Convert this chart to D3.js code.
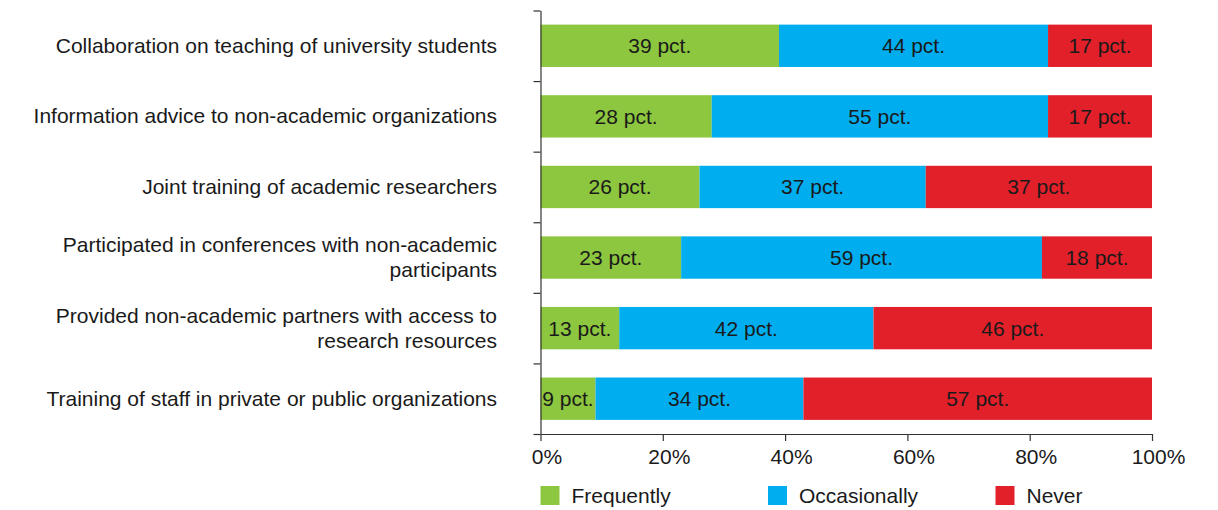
<!DOCTYPE html>
<html>
<head>
<meta charset="utf-8">
<script src="https://cdn.jsdelivr.net/npm/d3@7"></script>
<style>
  html, body { margin: 0; padding: 0; background: #fff; }
  svg text { font-family: "Liberation Sans", Arial, Helvetica, sans-serif; fill: #1a1a1a; }
</style>
</head>
<body>
<svg id="chart" width="1218" height="510"></svg>
<script>
// Activity categories (each label split into display lines)
const categories = [
  ["Collaboration on teaching of university students"],
  ["Information advice to non-academic organizations"],
  ["Joint training of academic researchers"],
  ["Participated in conferences with non-academic", "participants"],
  ["Provided non-academic partners with access to", "research resources"],
  ["Training of staff in private or public organizations"]
];
const seriesNames = ["Frequently", "Occasionally", "Never"];
const frequently   = [39, 28, 26, 23, 13, 9];
const occasionally = [44, 55, 37, 59, 42, 34];
const never        = [17, 17, 37, 18, 46, 57];
const tickLabels = ["0%", "20%", "40%", "60%", "80%", "100%"];
const colors = ["#8dc63f", "#00adee", "#e2202a"];

const rows = categories.map((c, i) => ({
  key: c.join(" "),
  lines: c,
  Frequently: frequently[i],
  Occasionally: occasionally[i],
  Never: never[i]
}));

const svg = d3.select("#chart");
const plotLeft = 540.5, plotRight = 1152, plotTop = 10.5, plotBottom = 434;

const x = d3.scaleLinear().domain([0, 1]).range([plotLeft, plotRight]);
const y = d3.scaleBand().domain(rows.map(r => r.key)).range([plotTop, plotBottom])
  .paddingInner(0.4).paddingOuter(0.2);

// share of each answer within a row
const stacked = d3.stack().keys(seriesNames).offset(d3.stackOffsetExpand)(rows);

const layers = svg.append("g").selectAll("g").data(stacked).join("g")
  .attr("fill", (d, i) => colors[i]);

layers.selectAll("rect").data(d => d).join("rect")
  .attr("x", d => x(d[0]))
  .attr("width", d => x(d[1]) - x(d[0]))
  .attr("y", d => y(d.data.key))
  .attr("height", y.bandwidth());

const labels = svg.append("g");
stacked.forEach(layer => {
  labels.append("g").selectAll("text").data(layer).join("text")
    .attr("x", d => (x(d[0]) + x(d[1])) / 2)
    .attr("y", d => y(d.data.key) + y.bandwidth() / 2)
    .attr("text-anchor", "middle")
    .attr("dominant-baseline", "central")
    .attr("font-size", 21)
    .text(d => d.data[layer.key] + " pct.");
});

// vertical axis with ticks on row boundaries
const yEdge = d3.scaleLinear().domain([0, rows.length]).range([plotTop, plotBottom]);
const yAxis = svg.append("g").attr("transform", `translate(${plotLeft},0)`)
  .call(d3.axisLeft(yEdge).tickValues(d3.range(rows.length + 1)).tickFormat("").tickSize(7).tickSizeOuter(0));
yAxis.selectAll("line, path").attr("stroke", "#333").attr("stroke-width", 1.2);

// horizontal percentage axis
const xAxis = svg.append("g").attr("transform", `translate(0,${plotBottom})`)
  .call(d3.axisBottom(x).tickValues(d3.range(0, 1.0001, 0.2))
    .tickFormat((d, i) => tickLabels[i]).tickSize(7).tickSizeOuter(0));
xAxis.selectAll("line, path").attr("stroke", "#333").attr("stroke-width", 1.2);
xAxis.selectAll("text")
  .attr("font-size", 21)
  .attr("font-family", "Liberation Sans, Arial, sans-serif")
  .attr("fill", "#1a1a1a")
  .attr("dx", 6)
  .attr("dy", "0.95em");

// row labels
const lineGap = 25;
svg.append("g").selectAll("text").data(rows).join("text")
  .attr("text-anchor", "end")
  .attr("font-size", 21)
  .attr("dominant-baseline", "central")
  .each(function(r) {
    const cy = y(r.key) + y.bandwidth() / 2 - 1;
    const start = cy - (r.lines.length - 1) * lineGap / 2;
    d3.select(this).selectAll("tspan").data(r.lines).join("tspan")
      .attr("x", 497)
      .attr("y", (d, i) => start + i * lineGap)
      .text(d => d);
  });

// legend
const legend = svg.append("g").selectAll("g").data(seriesNames).join("g")
  .attr("transform", (d, i) => `translate(${540.5 + i * 227.5},486)`);
legend.append("rect").attr("width", 19).attr("height", 19).attr("fill", (d, i) => colors[i]);
legend.append("text").attr("x", 31).attr("y", 17).attr("font-size", 21).text(d => d);
</script>
</body>
</html>
